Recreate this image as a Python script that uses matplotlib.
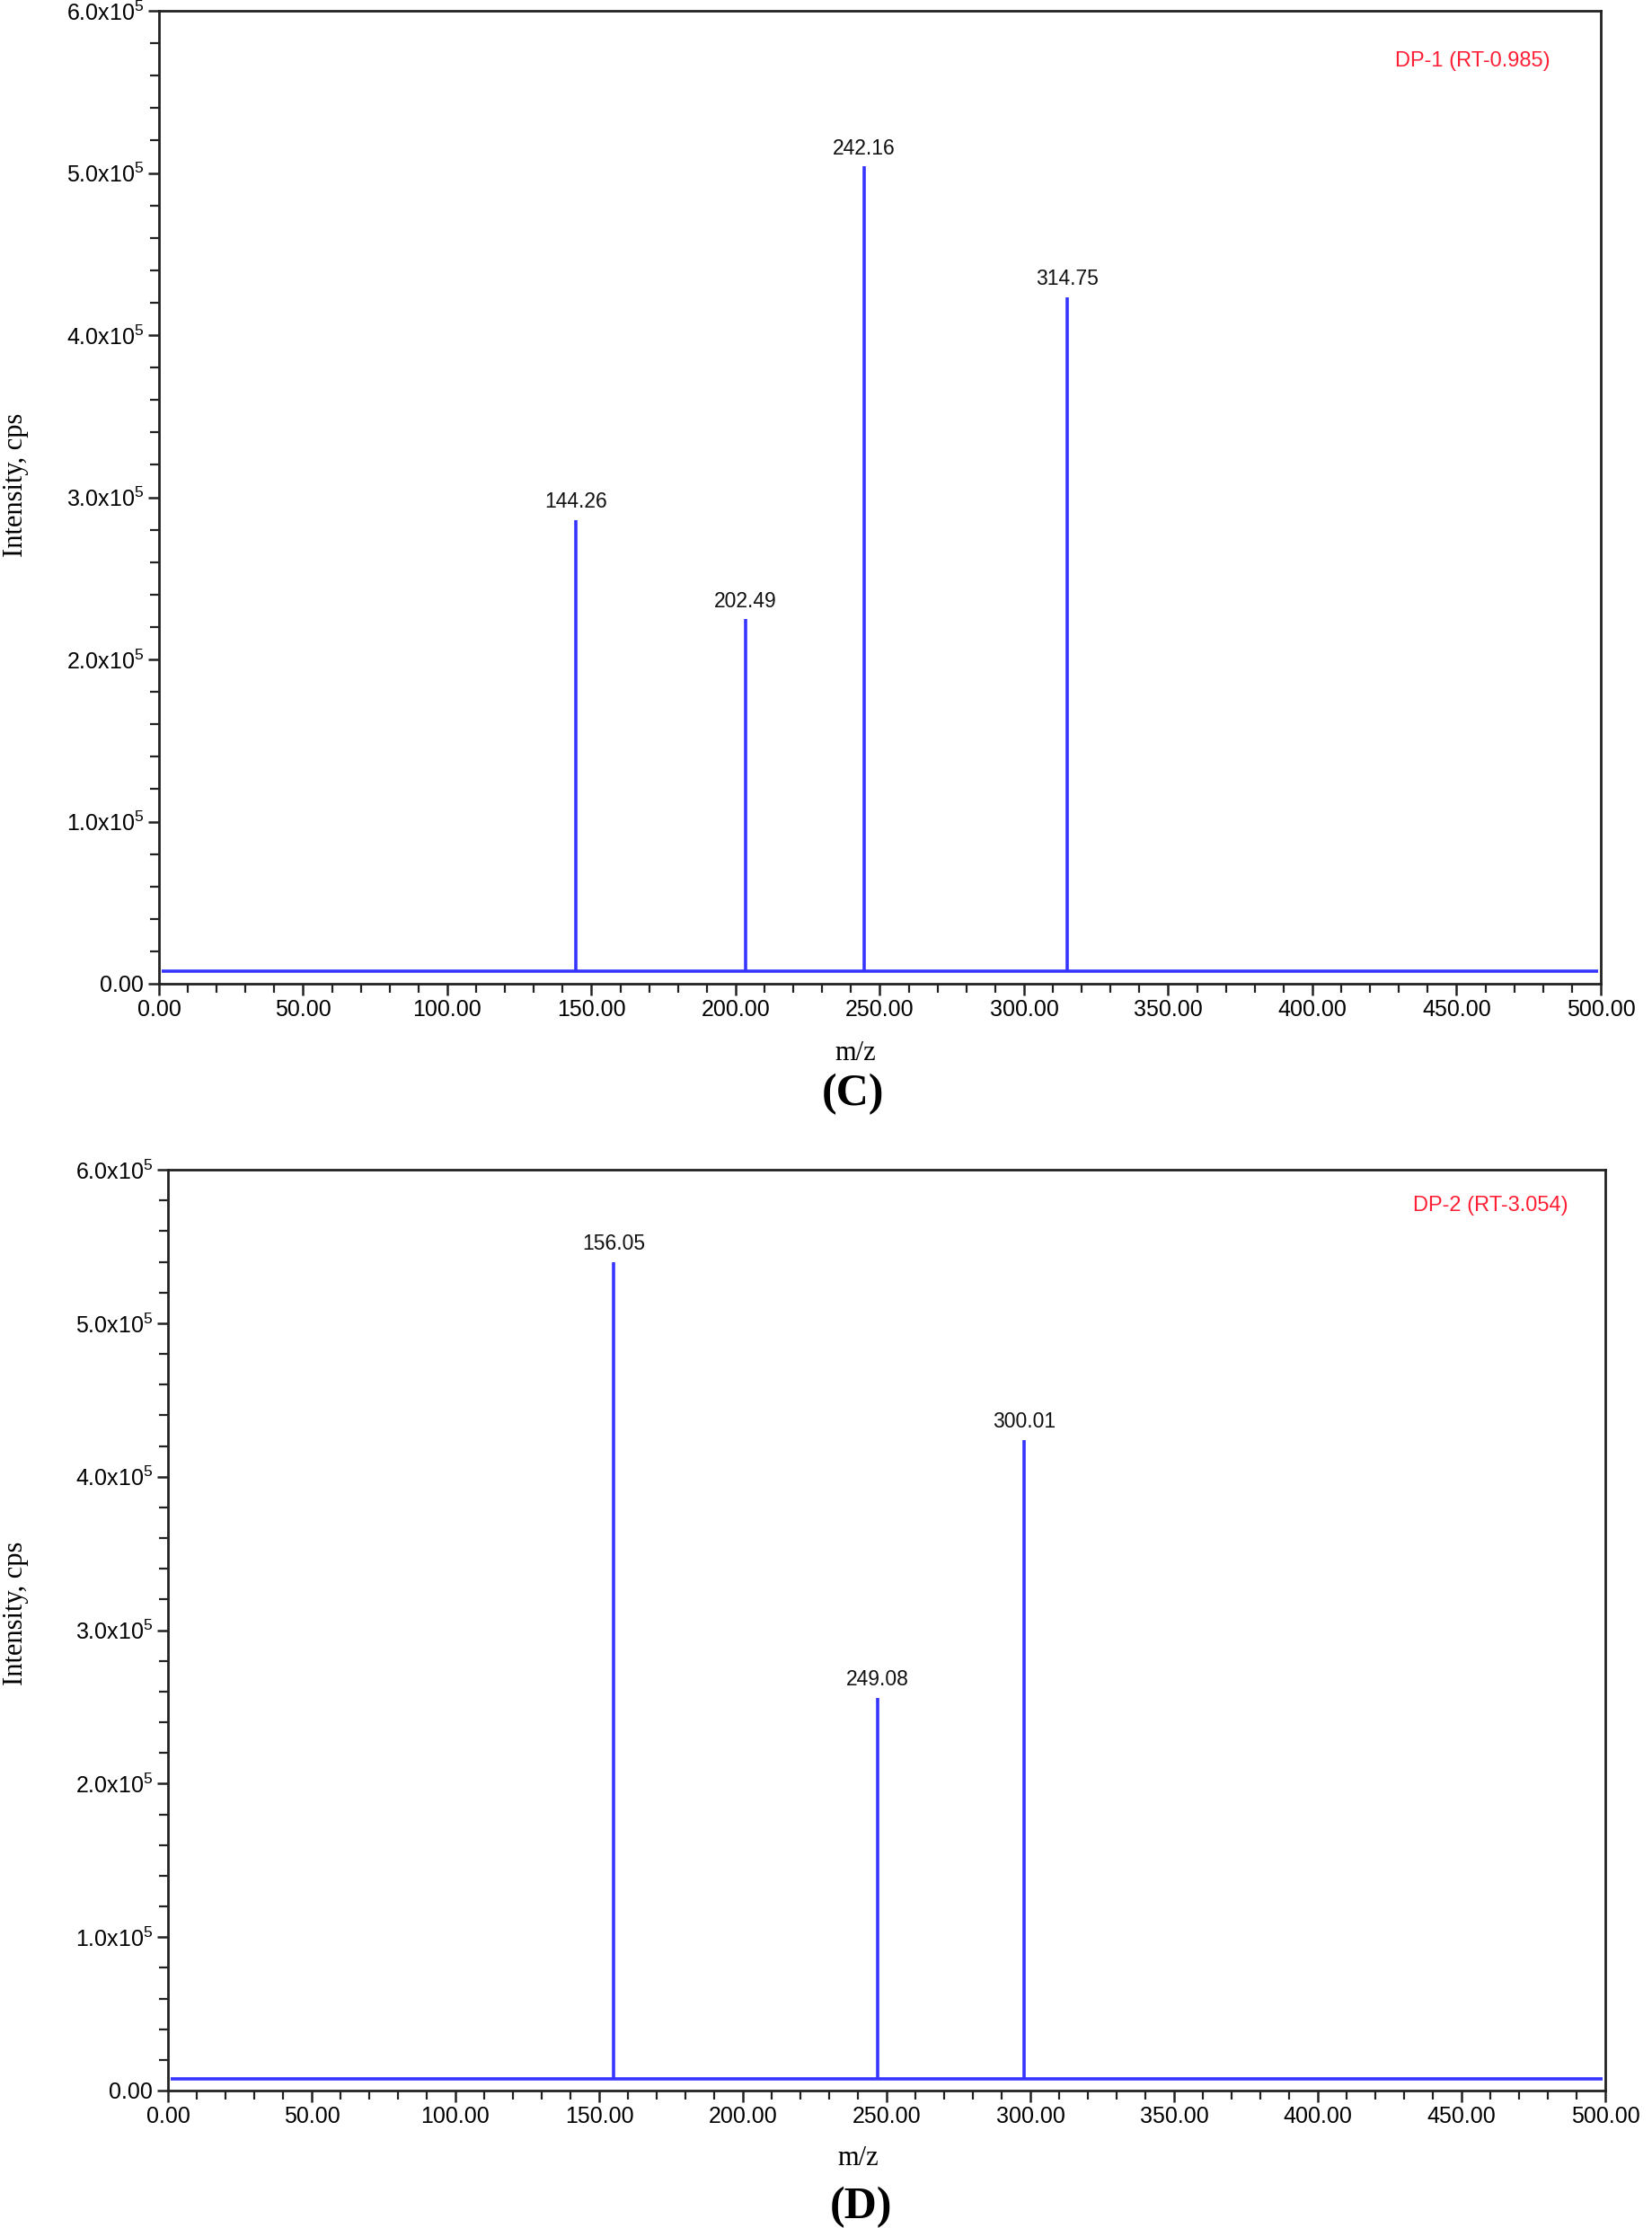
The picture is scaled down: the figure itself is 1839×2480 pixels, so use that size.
import matplotlib
matplotlib.use("Agg")
import matplotlib.pyplot as plt
from matplotlib.ticker import MultipleLocator, FuncFormatter

# ---------------- data ----------------
c_peak_mz = [144.6, 203.4, 244.4, 315.0]
c_peak_int = [2.86e5, 2.25e5, 5.04e5, 4.235e5]
c_peak_labels = ["144.26", "202.49", "242.16", "314.75"]
c_tag = "DP-1 (RT-0.985)"

d_peak_mz = [155.0, 246.9, 297.8]
d_peak_int = [5.40e5, 2.56e5, 4.24e5]
d_peak_labels = ["156.05", "249.08", "300.01"]
d_tag = "DP-2 (RT-3.054)"

baseline_level = 7.8e3
x_range = [1.0, 499.0]
panel_letters = ["(C)", "(D)"]

# ---------------- style ----------------
plt.rcParams['font.family'] = ['Liberation Sans', 'DejaVu Sans']
plt.rcParams['mathtext.fontset'] = 'custom'
plt.rcParams['mathtext.rm'] = 'Liberation Sans'
plt.rcParams['mathtext.it'] = 'Liberation Sans'
plt.rcParams['mathtext.bf'] = 'Liberation Sans'

W, H = 1840, 2480
fig = plt.figure(figsize=(W / 100, H / 100), dpi=100)

BLUE = '#3535ff'
RED = '#ff2035'
SERIF = ['Liberation Serif', 'DejaVu Serif']


def px_rect(l, t, r, b):
    return [l / W, 1 - b / H, (r - l) / W, (b - t) / H]


def yfmt(v, pos):
    if abs(v) < 1:
        return "0.00"
    return r"%.1fx10$^{5}$" % (v / 1e5)


def xfmt(v, pos):
    return "%.2f" % v


def draw_panel(rect, mz, inten, labels, tag, tag_xy, mz_xy, letter, letter_xy, ylab_xy):
    ax = fig.add_axes(px_rect(*rect))
    ax.hlines(baseline_level, x_range[0], x_range[1], color=BLUE, lw=2.6, zorder=2)
    ax.vlines(mz, baseline_level, inten, color=BLUE, lw=2.6, zorder=3)
    for x, y, lab in zip(mz, inten, labels):
        ax.annotate(lab, (x, y), xytext=(0, 6), textcoords='offset points',
                    ha='center', va='bottom', fontsize=16.5,
                    family=['Liberation Sans Narrow', 'Liberation Sans'], color='#111111')
    ax.set_xlim(0, 500)
    ax.set_ylim(0, 6e5)
    ax.xaxis.set_major_locator(MultipleLocator(50))
    ax.xaxis.set_minor_locator(MultipleLocator(10))
    ax.yaxis.set_major_locator(MultipleLocator(1e5))
    ax.yaxis.set_minor_locator(MultipleLocator(2e4))
    ax.xaxis.set_major_formatter(FuncFormatter(xfmt))
    ax.yaxis.set_major_formatter(FuncFormatter(yfmt))
    ax.tick_params(axis='both', which='major', direction='out', length=9, width=1.8,
                   labelsize=18, pad=3, colors='#222222', labelcolor='black')
    ax.tick_params(axis='both', which='minor', direction='out', length=7, width=1.6,
                   colors='#222222')
    for s in ax.spines.values():
        s.set_linewidth(2.0)
        s.set_color('#222222')
    fig.text(tag_xy[0] / W, 1 - tag_xy[1] / H, tag,
             ha='center', va='center', fontsize=17, color=RED)
    fig.text(mz_xy[0] / W, 1 - mz_xy[1] / H, "m/z", ha='center', va='center',
             fontsize=22, family=SERIF)
    fig.text(letter_xy[0] / W, 1 - letter_xy[1] / H, letter, ha='center', va='center',
             fontsize=36, fontweight='bold', family=SERIF)
    fig.text(ylab_xy[0] / W, 1 - ylab_xy[1] / H, "Intensity, cps", ha='center', va='center',
             rotation=90, fontsize=22, family=SERIF)
    return ax


ax1 = draw_panel((177, 12, 1782, 1095), c_peak_mz, c_peak_int, c_peak_labels, c_tag,
                 (1639, 68), (952, 1173), panel_letters[0], (950, 1218), (18, 540))

ax2 = draw_panel((187, 1302, 1787, 2327), d_peak_mz, d_peak_int, d_peak_labels, d_tag,
                 (1659, 1342), (955, 2403), panel_letters[1], (958, 2457), (18, 1796))

fig.savefig("out.png", dpi=100, facecolor='white')
